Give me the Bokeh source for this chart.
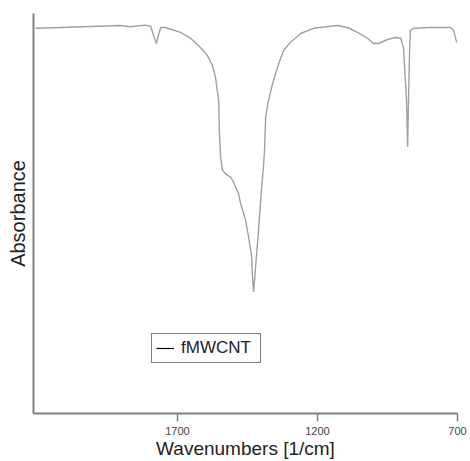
from bokeh.plotting import figure
from bokeh.models import Range1d, FixedTicker, ColumnDataSource, Legend, LegendItem
from bokeh.embed import file_html
from bokeh.resources import INLINE

# wavenumbers [1/cm] and absorbance (arbitrary units, as plotted)
wavenumber = [2207, 2118, 1903, 1868, 1814, 1796, 1785, 1775, 1768, 1760, 1743, 1689,
              1653, 1618, 1593, 1575, 1564, 1553, 1550, 1546, 1539, 1528, 1518, 1510,
              1500, 1493, 1482, 1475, 1457, 1446, 1435, 1432, 1428, 1421, 1414, 1407,
              1400, 1393, 1389, 1385, 1375, 1360, 1343, 1321, 1296, 1260, 1214, 1153,
              1128, 1093, 1057, 1021, 1000, 982, 950, 921, 903, 893, 889, 882, 878,
              875, 871, 868, 857, 796, 725, 714, 703]
absorbance = [0.963, 0.965, 0.970, 0.967, 0.971, 0.968, 0.945, 0.925, 0.945, 0.965, 0.965, 0.953,
              0.938, 0.915, 0.895, 0.870, 0.840, 0.783, 0.701, 0.641, 0.608, 0.599, 0.594, 0.591,
              0.579, 0.566, 0.551, 0.526, 0.484, 0.441, 0.392, 0.342, 0.304, 0.367, 0.426, 0.491,
              0.559, 0.616, 0.658, 0.741, 0.783, 0.825, 0.865, 0.908, 0.928, 0.950, 0.963, 0.968,
              0.970, 0.965, 0.953, 0.938, 0.925, 0.925, 0.935, 0.940, 0.938, 0.915, 0.865, 0.783, 0.666,
              0.783, 0.908, 0.958, 0.963, 0.965, 0.965, 0.958, 0.928]
x_ticks = [1700, 1200, 700]
series_name = "fMWCNT"

FONT = "Liberation Sans"

p = figure(width=470, height=461, output_backend="svg", toolbar_location=None,
           x_range=Range1d(2214, 700), y_range=Range1d(0, 1),
           min_border_left=33, min_border_right=13, min_border_top=13, min_border_bottom=47)
p.outline_line_color = None
p.xgrid.visible = False
p.ygrid.visible = False
p.background_fill_color = "white"
p.border_fill_color = "white"

src = ColumnDataSource(dict(x=wavenumber, y=absorbance))
r = p.line("x", "y", source=src, line_color="#a0a0a0", line_width=1.4)

# x axis
xa = p.xaxis[0]
xa.ticker = FixedTicker(ticks=x_ticks)
xa.axis_line_color = "#808080"
xa.axis_line_width = 2
xa.major_tick_line_color = "#808080"
xa.major_tick_line_width = 1.5
xa.major_tick_in = 0
xa.major_tick_out = 8
xa.minor_tick_line_color = None
xa.major_label_text_font = FONT
xa.major_label_text_font_size = "11px"
xa.major_label_text_color = "#444444"
xa.major_label_standoff = 5
xa.axis_label = "Wavenumbers [1/cm]"
xa.axis_label_text_font = FONT
xa.axis_label_text_font_size = "19px"
xa.axis_label_text_font_style = "normal"
xa.axis_label_text_color = "#222222"
xa.axis_label_standoff = 0

# y axis
ya = p.yaxis[0]
ya.ticker = FixedTicker(ticks=[])
ya.axis_line_color = "#808080"
ya.axis_line_width = 2
ya.major_tick_line_color = None
ya.minor_tick_line_color = None
ya.major_tick_in = 0
ya.major_tick_out = 0
ya.major_label_text_font_size = "0px"
ya.axis_label = "Absorbance"
ya.axis_label_text_font = FONT
ya.axis_label_text_font_size = "20px"
ya.axis_label_text_font_style = "normal"
ya.axis_label_text_color = "#222222"
ya.axis_label_standoff = 5

# black line used only as the legend's glyph (its single point lies outside the frame)
legend_glyph = p.line([3000, 3100], [2, 2], line_color="black", line_width=1.2)

legend = Legend(items=[LegendItem(label=series_name, renderers=[legend_glyph])],
                location=(118, 50), margin=0, padding=4,
                glyph_width=18, glyph_height=18, label_standoff=7, label_width=75,
                label_text_font=FONT, label_text_font_size="17px", label_text_color="#222222",
                border_line_color="black", border_line_width=1.2,
                background_fill_color="white", background_fill_alpha=1)
p.add_layout(legend)

open("out.html", "w").write(file_html(p, INLINE))
